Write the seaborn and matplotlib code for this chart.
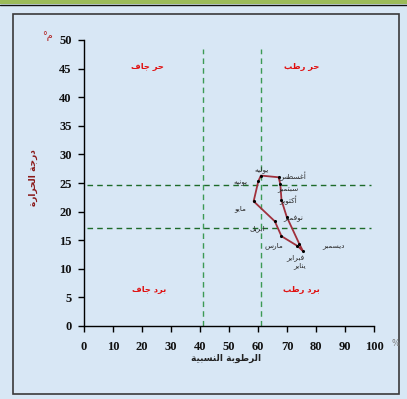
import matplotlib
matplotlib.use("Agg")
import matplotlib.pyplot as plt
from matplotlib.patches import Rectangle
from matplotlib.lines import Line2D
import pandas as pd
import seaborn as sns

# ---- data -----------------------------------------------------------------
months = ["يناير", "فبراير", "مارس", "ابريل", "مايو", "يونيه",
          "يوليه", "أغسطس", "سبتمبر", "أكتوبر", "نوفمبر", "ديسمبر"]
humidity = [75.5, 73.6, 68.1, 65.8, 58.5, 60.1, 61.0, 67.1, 67.7, 68.1, 69.9, 74.2]
temperature = [13.1, 14.0, 15.7, 18.3, 21.8, 25.3, 26.3, 26.0, 24.8, 22.0, 19.1, 14.4]

x_ticks = [0, 10, 20, 30, 40, 50, 60, 70, 80, 90, 100]
y_ticks = [0, 5, 10, 15, 20, 25, 30, 35, 40, 45, 50]

humidity_limits = [41, 61]        # dry / humid boundaries
temperature_limits = [24.7, 17.2]  # hot / cold boundaries

quadrants = ["حر جاف", "حر رطب", "برد جاف", "برد رطب"]
x_title = "الرطوبة النسبية"
y_title = "درجة الحرارة"

# ---- minimal Arabic shaping (presentation forms, visual order) -------------
FORMS = {
    "ا": ("\ufe8d", "\ufe8e"),
    "أ": ("\ufe83", "\ufe84"),
    "د": ("\ufea9", "\ufeaa"),
    "ر": ("\ufead", "\ufeae"),
    "و": ("\ufeed", "\ufeee"),
    "ة": ("\ufe93", "\ufe94"),
    "ب": ("\ufe8f", "\ufe90", "\ufe91", "\ufe92"),
    "ت": ("\ufe95", "\ufe96", "\ufe97", "\ufe98"),
    "ج": ("\ufe9d", "\ufe9e", "\ufe9f", "\ufea0"),
    "ح": ("\ufea1", "\ufea2", "\ufea3", "\ufea4"),
    "س": ("\ufeb1", "\ufeb2", "\ufeb3", "\ufeb4"),
    "ط": ("\ufec1", "\ufec2", "\ufec3", "\ufec4"),
    "غ": ("\ufecd", "\ufece", "\ufecf", "\ufed0"),
    "ف": ("\ufed1", "\ufed2", "\ufed3", "\ufed4"),
    "ك": ("\ufed9", "\ufeda", "\ufedb", "\ufedc"),
    "ل": ("\ufedd", "\ufede", "\ufedf", "\ufee0"),
    "م": ("\ufee1", "\ufee2", "\ufee3", "\ufee4"),
    "ن": ("\ufee5", "\ufee6", "\ufee7", "\ufee8"),
    "ه": ("\ufee9", "\ufeea", "\ufeeb", "\ufeec"),
    "ي": ("\ufef1", "\ufef2", "\ufef3", "\ufef4"),
}


def ar(text):
    out = []
    for i, c in enumerate(text):
        if c not in FORMS:
            out.append(c)
            continue
        prev = text[i - 1] if i > 0 else None
        nxt = text[i + 1] if i + 1 < len(text) else None
        joins_prev = prev in FORMS and len(FORMS[prev]) == 4
        joins_next = len(FORMS[c]) == 4 and nxt in FORMS
        f = FORMS[c]
        if joins_prev and joins_next:
            out.append(f[3])
        elif joins_prev:
            out.append(f[1])
        elif joins_next:
            out.append(f[2])
        else:
            out.append(f[0])
    return "".join(reversed(out))


# ---- styling --------------------------------------------------------------
sns.set_theme(style="ticks")
plt.rcParams["font.family"] = ["DejaVu Sans"]
bg = "#d8e7f5"

fig = plt.figure(figsize=(4.07, 3.99), dpi=100, facecolor=bg)
ax = fig.add_axes([84 / 407, 1 - 326 / 399, 290 / 407, 286 / 399])
ax.set_facecolor("none")

# frame of the chart area
fig.patches.append(Rectangle((13 / 407, 1 - 394 / 399), 386 / 407, 380 / 399,
                             transform=fig.transFigure, fill=False,
                             edgecolor="#3a3a3a", linewidth=1.2, zorder=0))
fig.add_artist(Line2D([0, 1], [1 - 1.5 / 399] * 2, transform=fig.transFigure,
                      color="#9bbb59", linewidth=3))
fig.add_artist(Line2D([0, 1], [1 - 4.5 / 399] * 2, transform=fig.transFigure,
                      color="#111111", linewidth=1))

# boundary lines
for hx in humidity_limits:
    ax.plot([hx, hx], [0, 48.5], color="#3c9a55", lw=1.0, dashes=(4, 3), zorder=1)
for ty in temperature_limits:
    ax.plot([1, 99], [ty, ty], color="#1d6b2a", lw=1.0, dashes=(4, 3), zorder=1)

# climograph loop
df = pd.DataFrame({"month": months, "humidity": humidity, "temperature": temperature})
loop = pd.concat([df, df.iloc[[0]]], ignore_index=True)
sns.lineplot(data=loop, x="humidity", y="temperature", sort=False, estimator=None,
             color="#a0303c", lw=1.3, ax=ax, zorder=3)
sns.scatterplot(data=df, x="humidity", y="temperature", color="black", marker="o",
                s=5, linewidth=0, ax=ax, zorder=4)

# month labels
label_offsets = [(-1.0, -2.6), (-0.6, -2.1), (-2.6, -1.7), (-6.1, -1.2),
                 (-4.7, -1.3), (-6.3, -0.3), (0.4, 1.0), (4.9, 0.2),
                 (2.6, -1.0), (2.2, 0.0), (2.1, -0.4), (11.7, -0.4)]
for m, hx, ty, (dx, dy) in zip(months, humidity, temperature, label_offsets):
    ax.text(hx + dx, ty + dy, ar(m), fontsize=5.3, color="#2a2a2a",
            ha="center", va="center", zorder=5)

# quadrant labels
quad_pos = [(22, 45.3), (75, 45.3), (22.5, 6.3), (75, 6.3)]
for q, (qx, qy) in zip(quadrants, quad_pos):
    ax.text(qx, qy, ar(q), fontsize=6, color="#e01010", fontweight="bold",
            ha="center", va="center")

# axes
ax.set_xlim(0, 100)
ax.set_ylim(0, 50)
ax.set_xticks(x_ticks)
ax.set_yticks(y_ticks)
ax.set_xlabel("")
ax.set_ylabel("")
sns.despine(ax=ax)
for s in ("left", "bottom"):
    ax.spines[s].set_color("black")
    ax.spines[s].set_linewidth(1.0)
ax.tick_params(axis="both", direction="out", length=4, width=1, color="black",
               labelsize=9, labelcolor="#111111")
ax.tick_params(axis="x", pad=7)
ax.tick_params(axis="y", pad=5)
for lab in ax.get_xticklabels() + ax.get_yticklabels():
    lab.set_fontfamily("Liberation Serif")
    lab.set_fontweight("bold")

fig.text(226 / 407, 1 - 358 / 399, ar(x_title), fontsize=6.5, color="#222222",
         ha="center", va="center", fontweight="bold")
fig.text(33 / 407, 1 - 178 / 399, ar(y_title), fontsize=6.5, color="#8b1a1a",
         ha="center", va="center", rotation=90, fontweight="bold")
fig.text(53 / 407, 1 - 36 / 399, "°" + ar("م"), fontsize=7, color="#b02020",
         ha="right", va="center")
fig.text(395 / 407, 1 - 343 / 399, "%", fontsize=6, color="#777777",
         ha="center", va="center")

fig.savefig("out.png", dpi=100, facecolor=bg)
